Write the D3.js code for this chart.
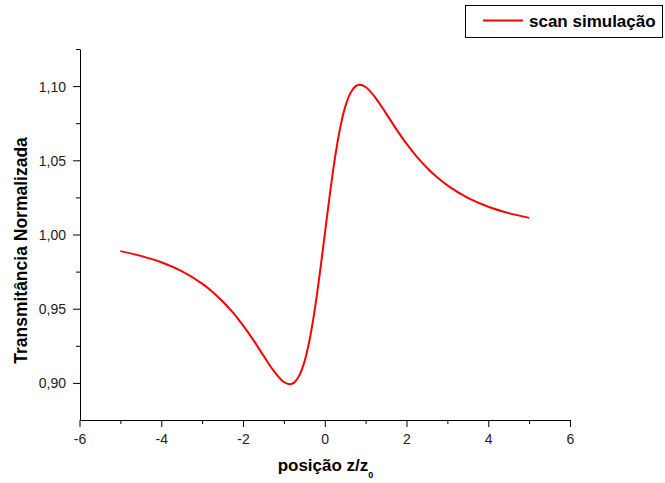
<!DOCTYPE html>
<html>
<head>
<meta charset="utf-8">
<script src="https://cdn.jsdelivr.net/npm/d3@7"></script>
<style>
  html, body { margin: 0; padding: 0; background: #fff; }
  svg { display: block; font-family: "Liberation Sans", Arial, sans-serif; }
</style>
</head>
<body>
<svg id="chart" width="665" height="483"></svg>
<script>
// Data
const zValues = [-5, -4.5, -4, -3.5, -3, -2.75, -2.5, -2.25, -2, -1.75, -1.5, -1.25, -1, -0.85, -0.75, -0.625, -0.5, -0.375, -0.25, -0.125,
                 0, 0.125, 0.25, 0.375, 0.5, 0.625, 0.75, 0.85, 1, 1.25, 1.5, 1.75, 2, 2.25, 2.5, 2.75, 3, 3.5, 4, 4.5, 5];
const transmittance = [0.9888, 0.9856, 0.9813, 0.9753, 0.9669, 0.9615, 0.9550, 0.9475, 0.9388, 0.9290, 0.9184, 0.9082, 0.9006, 0.8991, 0.9002, 0.9049, 0.9140, 0.9285, 0.9484, 0.9729,
                       1.0000, 1.0271, 1.0516, 1.0715, 1.0860, 1.0951, 1.0998, 1.1009, 1.0994, 1.0918, 1.0816, 1.0710, 1.0612, 1.0525, 1.0450, 1.0385, 1.0331, 1.0247, 1.0187, 1.0144, 1.0112];
const xMajorTicks = [-6, -4, -2, 0, 2, 4, 6];
const xMinorTicks = [-5, -3, -1, 1, 3, 5];
const yMajorTicks = [0.90, 0.95, 1.00, 1.05, 1.10];
const yMinorTicks = [0.925, 0.975, 1.025, 1.075, 1.125];
const seriesName = "scan simulação";
const xTitle = "posição z/z";
const xTitleSub = "0";
const yTitle = "Transmitância Normalizada";

const svg = d3.select("#chart");
const mLeft = 80, mRight = 570, mTop = 49, mBottom = 420;

const x = d3.scaleLinear().domain([-6, 6]).range([mLeft - 0.5, mRight]);
const y = d3.scaleLinear().domain([0.875, 1.125]).range([mBottom, mTop]);

const fmtY = d => d3.format(".2f")(d).replace(".", ",");
const fmtX = d => String(d);

// X axis
const gx = svg.append("g").attr("transform", `translate(0,${mBottom})`);
gx.call(d3.axisBottom(x).tickValues(xMajorTicks).tickSize(7).tickSizeOuter(0).tickFormat(fmtX));
gx.append("g").call(d3.axisBottom(x).tickValues(xMinorTicks).tickSize(4).tickFormat(""))
  .select(".domain").remove();
gx.selectAll("text").attr("font-size", 14).attr("fill", "#222").attr("y", 24).attr("dy", null)
  .attr("font-family", "Liberation Sans, Arial, sans-serif");

// Y axis
const gy = svg.append("g").attr("transform", `translate(${mLeft},0)`);
gy.call(d3.axisLeft(y).tickValues(yMajorTicks).tickSize(7).tickSizeOuter(0).tickFormat(fmtY));
gy.append("g").call(d3.axisLeft(y).tickValues(yMinorTicks).tickSize(4).tickFormat(""))
  .select(".domain").remove();
gy.selectAll("text").attr("font-size", 14).attr("fill", "#222").attr("x", -14).attr("dy", "0.36em")
  .attr("font-family", "Liberation Sans, Arial, sans-serif");
svg.selectAll(".domain, .tick line").attr("stroke", "#000").attr("stroke-width", 1);

// Curve
const line = d3.line().x((d, i) => x(zValues[i])).y(d => y(d)).curve(d3.curveCatmullRom.alpha(0.5));
svg.append("path").datum(transmittance)
  .attr("d", line).attr("fill", "none").attr("stroke", "#ff0000").attr("stroke-width", 2);

// Axis titles
const xt = svg.append("text").attr("x", 325.5).attr("y", 471).attr("text-anchor", "middle")
  .attr("font-size", 17).attr("font-weight", "bold").attr("fill", "#000");
xt.append("tspan").text(xTitle);
xt.append("tspan").text(xTitleSub).attr("font-size", 9).attr("dy", 7);

svg.append("text").attr("transform", `translate(27,250.5) rotate(-90)`)
  .attr("text-anchor", "middle").attr("font-size", 17.5).attr("font-weight", "bold").attr("fill", "#000")
  .text(yTitle);

// Legend
const lg = svg.append("g");
lg.append("rect").attr("x", 465.5).attr("y", 5.5).attr("width", 197).attr("height", 32)
  .attr("fill", "#fff").attr("stroke", "#000").attr("stroke-width", 1);
lg.append("line").attr("x1", 483).attr("x2", 523).attr("y1", 20.5).attr("y2", 20.5)
  .attr("stroke", "#ff0000").attr("stroke-width", 2);
lg.append("text").attr("x", 529).attr("y", 27).attr("font-size", 17).attr("font-weight", "bold")
  .attr("fill", "#000").text(seriesName);
</script>
</body>
</html>
